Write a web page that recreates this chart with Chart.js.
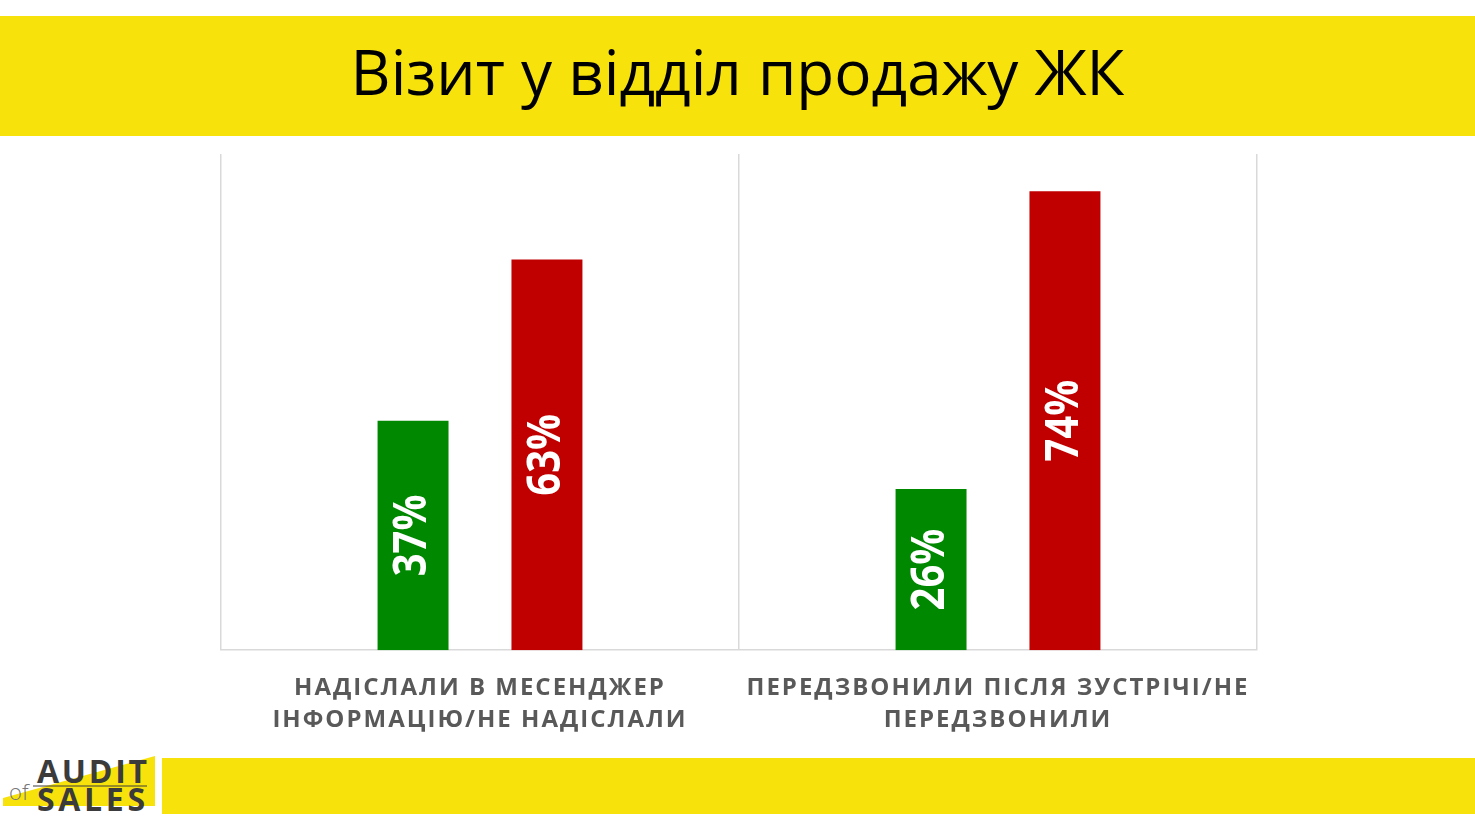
<!DOCTYPE html>
<html lang="uk">
<head>
    <meta charset="UTF-8" />
    <title>Візит у відділ продажу ЖК</title>
    <style>
        body { margin: 0; background: #fff; width: 1475px; height: 829px; overflow: hidden; position: relative; font-family: "Open Sans", sans-serif; }
        #top { position: absolute; left: 0; top: 16px; width: 1475px; height: 120px; background: #f7e20c; }
        #top h1 { margin: 0; font-weight: 400; font-size: 62px; line-height: 110px; text-align: center; color: #000; }
        #bottom { position: absolute; left: 162px; top: 758px; width: 1313px; height: 56px; background: #f7e20c; }
        #logo { position: absolute; left: 0; top: 750px; }
        #box { position: absolute; left: 0; top: 140px; width: 1475px; height: 618px; }
    </style>
</head>
<body>
    <div id="top"><h1>Візит у відділ продажу ЖК</h1></div>

    <svg id="logo" width="160" height="70" viewBox="0 750 160 70">
        <polygon points="3,798 155,756 155,806 3,806" fill="#f7e20c" />
        <text x="37" y="783" font-family="Open Sans" font-weight="700" font-size="32" fill="#3b3b3b" textLength="110">AUDIT</text>
        <line x1="33" y1="786" x2="147" y2="786" stroke="#3b3b3b" stroke-width="1" />
        <text x="37" y="811" font-family="Open Sans" font-weight="700" font-size="32" fill="#3b3b3b" textLength="108">SALES</text>
        <text x="9" y="800" font-family="Open Sans" font-weight="300" font-size="22" fill="#777">of</text>
    </svg>
    <div id="bottom"></div>

    <div id="box"><canvas id="myChart"></canvas></div>

    <script src="https://cdn.jsdelivr.net/npm/chart.js"></script>
    <script>
        // значення
        const labels = [
            ['НАДІСЛАЛИ В МЕСЕНДЖЕР', 'ІНФОРМАЦІЮ/НЕ НАДІСЛАЛИ'],
            ['ПЕРЕДЗВОНИЛИ ПІСЛЯ ЗУСТРІЧІ/НЕ', 'ПЕРЕДЗВОНИЛИ']
        ];
        const yesValues = [37, 26];
        const noValues = [63, 74];

        // підписи всередині стовпців, повернуті на 90°
        const barLabels = {
            id: 'barLabels',
            beforeDraw(chart) {
                chart.ctx.letterSpacing = '2px';
            },
            afterDatasetsDraw(chart) {
                const ctx = chart.ctx;
                chart.data.datasets.forEach((ds, i) => {
                    chart.getDatasetMeta(i).data.forEach((bar, j) => {
                        ctx.save();
                        ctx.letterSpacing = '0px';
                        ctx.translate(bar.x, (bar.y + bar.base) / 2);
                        ctx.rotate(-Math.PI / 2);
                        ctx.scale(0.87, 1);
                        ctx.font = 'bold 46px "Open Sans"';
                        ctx.fillStyle = '#fff';
                        ctx.textAlign = 'center';
                        ctx.textBaseline = 'middle';
                        ctx.fillText(ds.data[j] + '%', 0, 0);
                        ctx.restore();
                    });
                });
            }
        };

        const data = {
            labels: labels,
            datasets: [
                { label: 'Так', data: yesValues, backgroundColor: '#008800', categoryPercentage: 0.517, barPercentage: 0.53 },
                { label: 'Ні', data: noValues, backgroundColor: '#c00000', categoryPercentage: 0.517, barPercentage: 0.53 }
            ]
        };

        const config = {
            type: 'bar',
            data: data,
            options: {
                responsive: true,
                maintainAspectRatio: false,
                animation: false,
                layout: { padding: { left: 221, right: 218, top: 14, bottom: 0 } },
                plugins: { legend: { display: false }, tooltip: { enabled: false } },
                scales: {
                    x: {
                        grid: { color: '#d9d9d9', lineWidth: 1.5, drawTicks: false },
                        border: { color: '#d9d9d9', width: 1.5 },
                        ticks: {
                            color: '#595959',
                            padding: 22,
                            maxRotation: 0,
                            font: { family: 'Open Sans', size: 24, weight: 'bold', lineHeight: 1.33 }
                        }
                    },
                    y: { display: false, min: 0, max: 80 }
                }
            },
            plugins: [barLabels]
        };

        const myChart = new Chart(document.getElementById('myChart'), config);
    </script>
</body>
</html>
